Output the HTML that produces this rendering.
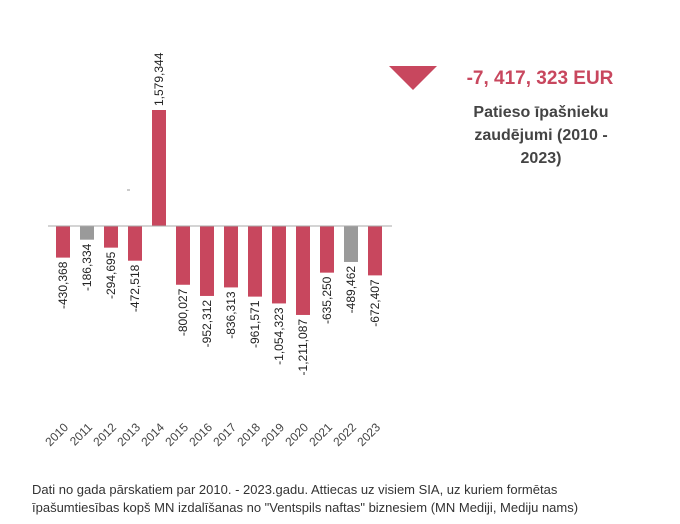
<!DOCTYPE html>
<html><head><meta charset="utf-8"><style>
body{margin:0;background:#fff;width:680px;height:524px;overflow:hidden;font-family:"Liberation Sans",sans-serif;}
#wrap{position:relative;width:680px;height:524px;}
.foot{position:absolute;left:32px;top:481px;font-size:13px;line-height:18px;color:#333;}
</style></head><body>
<div id="wrap">
<svg id="chart" width="680" height="524" style="position:absolute;left:0;top:0">
  <g id="kpi">
    <polygon points="389,66 437,66 413,90" fill="#c8475e" transform="translate(0,0)"/>
    <text x="540" y="84" text-anchor="middle" font-size="19" font-weight="bold" fill="#c8475e">-7, 417, 323 EUR</text>
    <text x="541" y="117" text-anchor="middle" font-size="16" font-weight="bold" fill="#444">Patieso īpašnieku</text>
    <text x="541" y="140" text-anchor="middle" font-size="16" font-weight="bold" fill="#444">zaudējumi (2010 -</text>
    <text x="541" y="163" text-anchor="middle" font-size="16" font-weight="bold" fill="#444">2023)</text>
  </g>
  <line x1="127" y1="190" x2="130" y2="190" stroke="#999"/>
  <g id="bars"></g>
  <line x1="48" y1="226" x2="392" y2="226" stroke="#aaa" stroke-width="1"/>
</svg>
<div class="foot">Dati no gada pārskatiem par 2010. - 2023.gadu. Attiecas uz visiem SIA, uz kuriem formētas<br>īpašumtiesības kopš MN izdalīšanas no "Ventspils naftas" biznesiem (MN Mediji, Mediju nams)</div>
</div>
<script>
const years=["2010","2011","2012","2013","2014","2015","2016","2017","2018","2019","2020","2021","2022","2023"];
const values=[-430368,-186334,-294695,-472518,1579344,-800027,-952312,-836313,-961571,-1054323,-1211087,-635250,-489462,-672407];
const grey=[false,true,false,false,false,false,false,false,false,false,false,false,true,false];
const labels=["-430,368","-186,334","-294,695","-472,518","1,579,344","-800,027","-952,312","-836,313","-961,571","-1,054,323","-1,211,087","-635,250","-489,462","-672,407"];
const ns="http://www.w3.org/2000/svg";
const y0=226, k=116/1579344, x0=63, step=24, bw=14;
function yScale(v){return y0-v*k;}
function xScale(i){return x0+i*step;}
const g=document.getElementById('bars');
values.forEach((v,i)=>{
  const cx=xScale(i), y=yScale(v);
  const r=document.createElementNS(ns,'rect');
  
  
  r.setAttribute('x',cx-bw/2);r.setAttribute('width',bw);
  r.setAttribute('y',Math.min(y,y0));r.setAttribute('height',Math.abs(y-y0));
  r.setAttribute('fill',grey[i]?'#9a9a9a':'#c8475e');
  g.appendChild(r);
  const t=document.createElementNS(ns,'text');
  
  
  t.setAttribute('font-size','12');t.setAttribute('fill','#222');
  let ty;
  if(v<0){ty=y+4;t.setAttribute('text-anchor','end');}
  else{ty=y-4;t.setAttribute('text-anchor','start');}
  t.setAttribute('transform','translate('+(cx+4)+','+ty+') rotate(-90)');
  t.textContent=labels[i];
  g.appendChild(t);
  const yl=document.createElementNS(ns,'text');
  
  
  yl.setAttribute('font-size','12');yl.setAttribute('fill','#444');
  yl.setAttribute('text-anchor','end');
  yl.setAttribute('transform','translate('+(cx+6)+',428) rotate(-45)');
  yl.textContent=years[i];
  g.appendChild(yl);
});
</script>
</body></html>
